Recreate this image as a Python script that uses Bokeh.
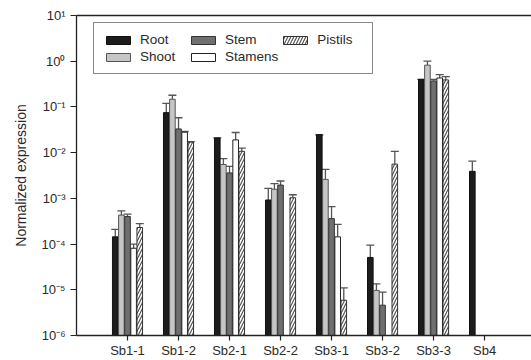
import math
from bokeh.plotting import figure
from bokeh.models import (ColumnDataSource, Range1d, FixedTicker, Whisker, TeeHead,
                          CustomJSTickFormatter, LinearAxis, Legend, LegendItem)
from bokeh.embed import file_html
from bokeh.resources import INLINE

# ---------------- data ----------------
groups = ["Sb1-1", "Sb1-2", "Sb2-1", "Sb2-2", "Sb3-1", "Sb3-2", "Sb3-3", "Sb4"]
tissues = ["Root", "Shoot", "Stem", "Stamens", "Pistils"]

root        = [1.44e-4, 0.075, 0.021,  9.2e-4,  0.0246, 5.1e-5, 0.40, 0.0039]
root_err    = [2.1e-4,  0.12,  0.021,  1.65e-3, 0.0246, 9.5e-5, 0.40, 0.0065]
shoot       = [4.3e-4,  0.147, 0.0055, 1.58e-3, 2.6e-3, 9.7e-6, 0.82, None]
shoot_err   = [5.3e-4,  0.18,  0.0074, 2.1e-3,  4.3e-3, 1.35e-5, 1.0, None]
stem        = [4.0e-4,  0.033, 0.0036, 1.95e-3, 3.6e-4, 4.6e-6, 0.37, None]
stem_err    = [4.5e-4,  0.058, 0.005,  2.4e-3,  6.6e-4, 8.9e-6, 0.40, None]
stamens     = [8.1e-5,  0.028, 0.019,  None,    1.44e-4, None,  0.43, None]
stamens_err = [1.0e-4,  0.029, 0.0276, None,    2.7e-4,  None,  0.51, None]
pistils     = [2.3e-4,  0.017, 0.0107, 1.03e-3, 5.9e-6, 5.6e-3, 0.39, None]
pistils_err = [2.8e-4,  0.0175, 0.0126, 1.2e-3, 1.1e-5, 0.0107, 0.46, None]

y_exponents = [-6, -5, -4, -3, -2, -1, 0, 1]
y_label = "Normalized expression"

FONT = "Liberation Sans"
TXT = "#2a2a2a"

p = figure(width=531, height=360, y_axis_type="log", output_backend="svg",
           toolbar_location=None,
           x_range=Range1d(0, 8.92), y_range=Range1d(1e-6, 10),
           min_border_left=76, min_border_right=0, min_border_top=15,
           min_border_bottom=24)
p.grid.visible = False
p.outline_line_color = None
p.background_fill_color = "white"
p.border_fill_color = "white"

styles = [
    dict(fill_color="#1c1c1c", line_color="#111111"),
    dict(fill_color="#c6c6c6", line_color="#555555"),
    dict(fill_color="#6f6f6f", line_color="#333333"),
    dict(fill_color="white", line_color="#222222"),
    dict(fill_color="white", line_color="#333333", hatch_pattern="/",
         hatch_color="#555555", hatch_scale=6, hatch_weight=1.2),
]
offsets = [-0.24, -0.12, 0.0, 0.12, 0.24]
data = [(root, root_err), (shoot, shoot_err), (stem, stem_err),
        (stamens, stamens_err), (pistils, pistils_err)]

items = []
for k, name in enumerate(tissues):
    vals, errs = data[k]
    xs, tops, ups = [], [], []
    for i, (v, e) in enumerate(zip(vals, errs)):
        if v is None:
            continue
        xs.append(i + 1 + offsets[k])
        tops.append(v)
        ups.append(e)
    src = ColumnDataSource(dict(x=xs, top=tops, up=ups))
    r = p.vbar(x="x", top="top", bottom=1e-6, width=0.11, source=src,
               line_width=1, **styles[k])
    w = Whisker(base="x", upper="up", lower="top", source=src,
                line_color="#555555", line_width=1.3,
                upper_head=TeeHead(size=8, line_color="#555555", line_width=1.3),
                lower_head=None)
    p.add_layout(w)
    items.append(LegendItem(label=name, renderers=[r]))

legend = Legend(items=items, location=(17, 261), nrows=2,
                border_line_color="#111111", border_line_width=1.3,
                padding=9, spacing=2, margin=0,
                glyph_width=30, glyph_height=10, label_height=14,
                label_width=46,
                label_standoff=7, label_text_font=FONT,
                label_text_font_size="13.5px", label_text_color=TXT,
                background_fill_alpha=1.0)
p.add_layout(legend, "center")

# y axis
p.yaxis.ticker = FixedTicker(ticks=[10.0 ** e for e in y_exponents])
p.yaxis.formatter = CustomJSTickFormatter(code="""
const e = Math.round(Math.log10(tick));
const sup = {"-":"\u207B","0":"\u2070","1":"\u00B9","2":"\u00B2","3":"\u00B3",
             "4":"\u2074","5":"\u2075","6":"\u2076","7":"\u2077","8":"\u2078","9":"\u2079"};
return "10" + String(e).split("").map(c => sup[c]).join("");
""")
p.yaxis.axis_label = y_label
p.yaxis.axis_label_text_font = FONT
p.yaxis.axis_label_text_font_size = "14px"
p.yaxis.axis_label_text_font_style = "normal"
p.yaxis.axis_label_text_color = TXT
p.yaxis.axis_label_standoff = 9
p.yaxis.minor_tick_line_color = None
p.yaxis.major_tick_in = 0
p.yaxis.major_tick_out = 6

# x axis
p.xaxis.ticker = FixedTicker(ticks=list(range(1, len(groups) + 1)))
p.xaxis.major_label_overrides = {i + 1: g for i, g in enumerate(groups)}
p.xaxis.minor_tick_line_color = None
p.xaxis.major_tick_in = 0
p.xaxis.major_tick_out = 5
p.xaxis.major_label_standoff = 2

for ax in (p.xaxis, p.yaxis):
    ax.axis_line_color = "#222222"
    ax.axis_line_width = 1.3
    ax.major_tick_line_color = "#222222"
    ax.major_tick_line_width = 1.2
    ax.major_label_text_font = FONT
    ax.major_label_text_font_size = "13px"
    ax.major_label_text_color = TXT

# top frame line
top_axis = LinearAxis(ticker=FixedTicker(ticks=[]),
                      major_tick_line_color=None, minor_tick_line_color=None,
                      axis_line_color="#222222", axis_line_width=1.3)
p.add_layout(top_axis, "above")

open("out.html", "w").write(file_html(p, INLINE))
